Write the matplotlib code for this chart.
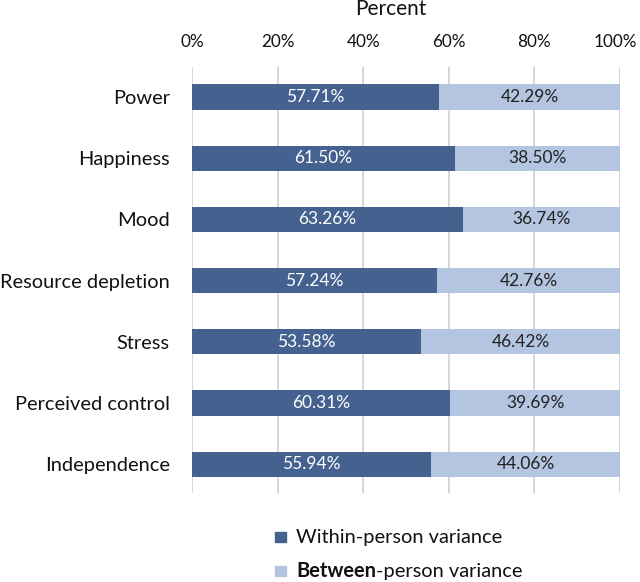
import matplotlib.pyplot as plt
import matplotlib.transforms as mtransforms
from matplotlib.patches import Rectangle

categories = ["Power", "Happiness", "Mood", "Resource depletion", "Stress",
              "Perceived control", "Independence"]
within = [57.71, 61.50, 63.26, 57.24, 53.58, 60.31, 55.94]
between = [42.29, 38.50, 36.74, 42.76, 46.42, 39.69, 44.06]

dark = "#45618f"
light = "#b4c5e2"
plt.rcParams["font.family"] = ["Lato", "DejaVu Sans"]

fig = plt.figure(figsize=(6.4, 5.82), dpi=100)
ax = fig.add_axes([192 / 640, 1 - 493 / 582, 428 / 640, 426 / 582])

y = range(len(categories))
ax.barh(y, within, height=0.41, color=dark, zorder=2)
ax.barh(y, between, left=within, height=0.41, color=light, zorder=2)

for i in y:
    ax.text(within[i] / 2, i, f"{within[i]:.2f}%", color="white",
            ha="center", va="center", fontsize=12.5)
    ax.text(within[i] + between[i] / 2, i, f"{between[i]:.2f}%", color="#222222",
            ha="center", va="center", fontsize=12.5)

ax.set_xlim(0, 100)
ax.set_ylim(6.47, -0.49)
ax.set_yticks(list(y))
ax.set_yticklabels(categories, fontsize=14.4)
ax.set_xticks(range(0, 101, 20))
ax.set_xticklabels([f"{v}%" for v in range(0, 101, 20)], fontsize=12.3)
ax.xaxis.tick_top()
ax.tick_params(length=0, colors="#111111")
ax.tick_params(axis="y", pad=16)
ax.tick_params(axis="x", pad=12)
ax.grid(axis="x", color="#d0d0d0", linewidth=1.2, zorder=0)
for s in ax.spines.values():
    s.set_visible(False)

# keep "100%" inside the picture
last = ax.get_xticklabels()[-1]
last.set_transform(last.get_transform() +
                   mtransforms.ScaledTranslation(-3 / 72, 0, fig.dpi_scale_trans))

fig.text(391 / 640, 1 - 9 / 582, "Percent", fontsize=15, ha="center",
         va="center", color="#111111")

# legend
fig.patches.append(Rectangle((275 / 640, 1 - 542 / 582), 11 / 640, 10 / 582,
                             transform=fig.transFigure, color=dark))
fig.patches.append(Rectangle((275 / 640, 1 - 576 / 582), 11 / 640, 10 / 582,
                             transform=fig.transFigure, color=light))
fig.text(296 / 640, 1 - 537 / 582, "Within-person variance", fontsize=14.4,
         va="center", color="#111111")
t = fig.text(296 / 640, 1 - 571 / 582, "Between", fontsize=14.4, fontweight="bold",
             va="center", color="#111111")
fig.canvas.draw()
bb = t.get_window_extent()
fig.text(bb.x1 / fig.bbox.width, 1 - 571 / 582, "-person variance", fontsize=14.4,
         va="center", color="#111111")

fig.savefig("out.png", dpi=100)
